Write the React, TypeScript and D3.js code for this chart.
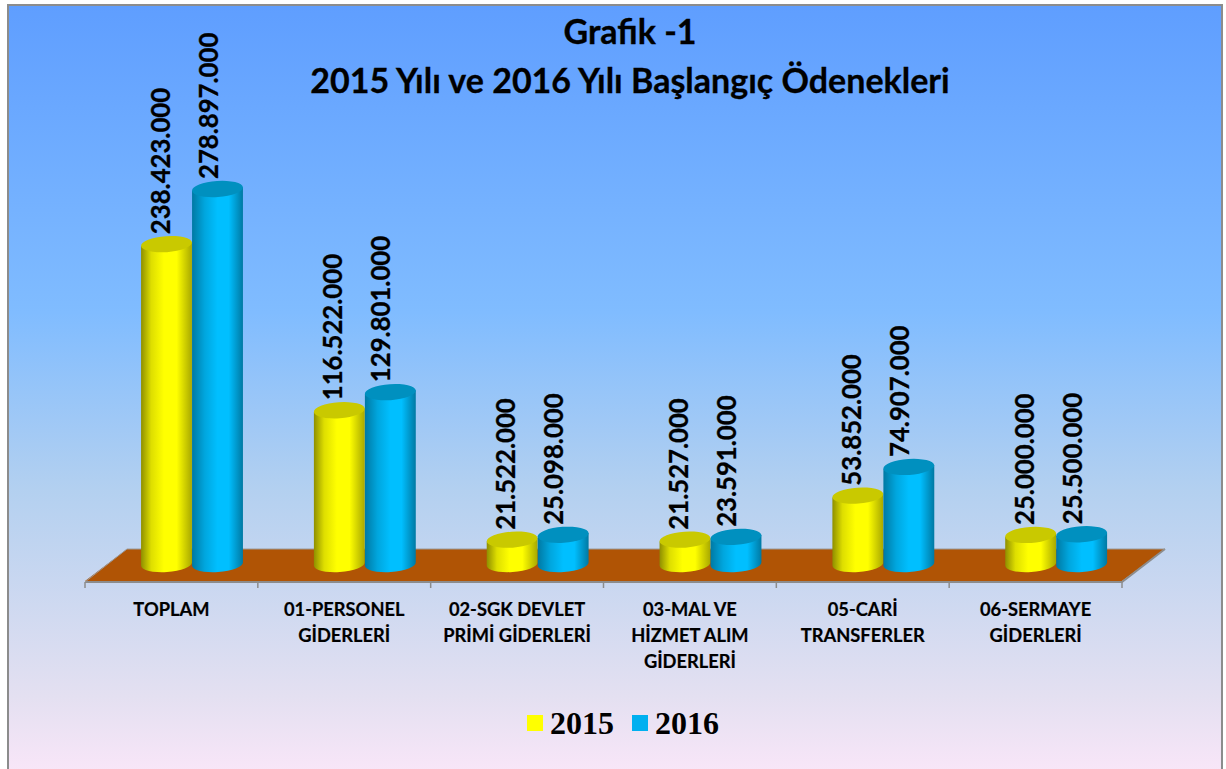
import React from "react";
import * as d3 from "d3";

const W = 1226;
const H = 769;

const titleLines = ["Grafik -1", "2015 Yılı ve 2016 Yılı Başlangıç Ödenekleri"];
const categories = ["TOPLAM", "01-PERSONEL", "02-SGK", "03-MAL", "05-CARI", "06-SERMAYE"];
const categoryLabels = [
  ["TOPLAM"],
  ["01-PERSONEL", "GİDERLERİ"],
  ["02-SGK DEVLET", "PRİMİ GİDERLERİ"],
  ["03-MAL VE", "HİZMET ALIM", "GİDERLERİ"],
  ["05-CARİ", "TRANSFERLER"],
  ["06-SERMAYE", "GİDERLERİ"],
];
const values2015 = [238423000, 116522000, 21522000, 21527000, 53852000, 25000000];
const values2016 = [278897000, 129801000, 25098000, 23591000, 74907000, 25500000];

const fmt = d3.formatLocale({ decimal: ",", thousands: ".", grouping: [3], currency: ["", ""] }).format(",d");

const x = d3.scaleBand<string>().domain(categories).range([85, 1122]);
const y = d3.scaleLinear().domain([0, 278897000]).range([569, 189]);

const RX = 25.5;
const RY = 8;
const TILT = -4;
const BASE_Y = 564;

function Cylinder({ cx, top, grad, cap }: { cx: number; top: number; grad: string; cap: string }) {
  const a = (TILT * Math.PI) / 180;
  const dx = RX * Math.cos(a);
  const dy = RX * Math.sin(a);
  const d =
    `M${cx - dx},${top - dy}L${cx - dx},${BASE_Y - dy}` +
    `A${RX},${RY} ${TILT} 0 0 ${cx + dx},${BASE_Y + dy}` +
    `L${cx + dx},${top + dy}Z`;
  return (
    <g>
      <path d={d} fill={`url(#${grad})`} />
      <ellipse cx={cx} cy={top} rx={RX} ry={RY} fill={cap} transform={`rotate(${TILT} ${cx} ${top})`} />
    </g>
  );
}

const sans = "Lato, 'Open Sans', sans-serif";

export default function App() {
  const ticks = [...categories.map((c) => x(c) as number), 1122];
  return (
    <svg width={W} height={H} style={{ position: "absolute", left: 0, top: 0 }}>
      <defs>
        <linearGradient id="bg" x1="0" y1="0" x2="0" y2="1">
          <stop offset="0" stopColor="#5f9eff" />
          <stop offset="0.4" stopColor="#80bcff" />
          <stop offset="0.63" stopColor="#b3d0f0" />
          <stop offset="0.9" stopColor="#e4e0f1" />
          <stop offset="1" stopColor="#f9e6f8" />
        </linearGradient>
        <linearGradient id="yel" x1="0" y1="0" x2="1" y2="0">
          <stop offset="0" stopColor="#8f8f00" />
          <stop offset="0.2" stopColor="#dede00" />
          <stop offset="0.45" stopColor="#ffff00" />
          <stop offset="0.7" stopColor="#ffff00" />
          <stop offset="1" stopColor="#a8a800" />
        </linearGradient>
        <linearGradient id="blu" x1="0" y1="0" x2="1" y2="0">
          <stop offset="0" stopColor="#0079a3" />
          <stop offset="0.25" stopColor="#00a6de" />
          <stop offset="0.5" stopColor="#00bfff" />
          <stop offset="0.72" stopColor="#00bfff" />
          <stop offset="1" stopColor="#0079a3" />
        </linearGradient>
      </defs>
      <rect x={8} y={5} width={1214} height={H} fill="url(#bg)" stroke="#8c8c8c" strokeWidth={2} />

      {titleLines.map((t, i) => (
        <text key={t} x={630} y={[44, 93][i]} textAnchor="middle" fontFamily={sans} fontWeight={700} fontSize={34} stroke="#000" strokeWidth={0.3} fill="#000">
          {t}
        </text>
      ))}

      <polygon points="85,581 127,549 1165,549 1122,581" fill="#b05405" />
      <path d="M85,582H1122L1165,549" fill="none" stroke="#8c8c8c" strokeWidth={2} />
      <path d="M127,549H1165" fill="none" stroke="#9a9a9a" strokeWidth={1} />
      <path d="M85,582L127,549" fill="none" stroke="#9a9a9a" strokeWidth={1} />
      {ticks.map((t) => (
        <line key={t} x1={t} x2={t} y1={582} y2={588} stroke="#8c8c8c" strokeWidth={1.5} />
      ))}

      {categories.map((c, i) => {
        const x0 = x(c) as number;
        const cy = x0 + 81.5;
        const cb = x0 + 132.5;
        const ty = y(values2015[i]);
        const tb = y(values2016[i]);
        return (
          <g key={c}>
            <Cylinder cx={cy} top={ty} grad="yel" cap="#c9c900" />
            <Cylinder cx={cb} top={tb} grad="blu" cap="#0090bf" />
            <text
              transform={`translate(${cy - 7},${ty - 10}) rotate(-90)`}
              fontFamily={sans}
              fontWeight={700}
              fontSize={25.7}
              stroke="#000"
              strokeWidth={0.3}
              dominantBaseline="central"
            >
              {fmt(values2015[i])}
            </text>
            <text
              transform={`translate(${cb - 10},${tb - 10}) rotate(-90)`}
              fontFamily={sans}
              fontWeight={700}
              fontSize={25.7}
              stroke="#000"
              strokeWidth={0.3}
              dominantBaseline="central"
            >
              {fmt(values2016[i])}
            </text>
            {categoryLabels[i].map((l, j) => (
              <text key={l} x={x0 + x.bandwidth() / 2} y={616 + j * 26} textAnchor="middle" fontFamily={sans} fontWeight={700} fontSize={18.3} stroke="#000" strokeWidth={0.2}>
                {l}
              </text>
            ))}
          </g>
        );
      })}

      <rect x={527} y={715} width={16} height={16} fill="#ffff00" />
      <text x={550} y={734} fontFamily="'Liberation Serif', serif" fontWeight={700} fontSize={32}>2015</text>
      <rect x={632} y={715} width={16} height={16} fill="#00b0f0" />
      <text x={655} y={734} fontFamily="'Liberation Serif', serif" fontWeight={700} fontSize={32}>2016</text>
    </svg>
  );
}
